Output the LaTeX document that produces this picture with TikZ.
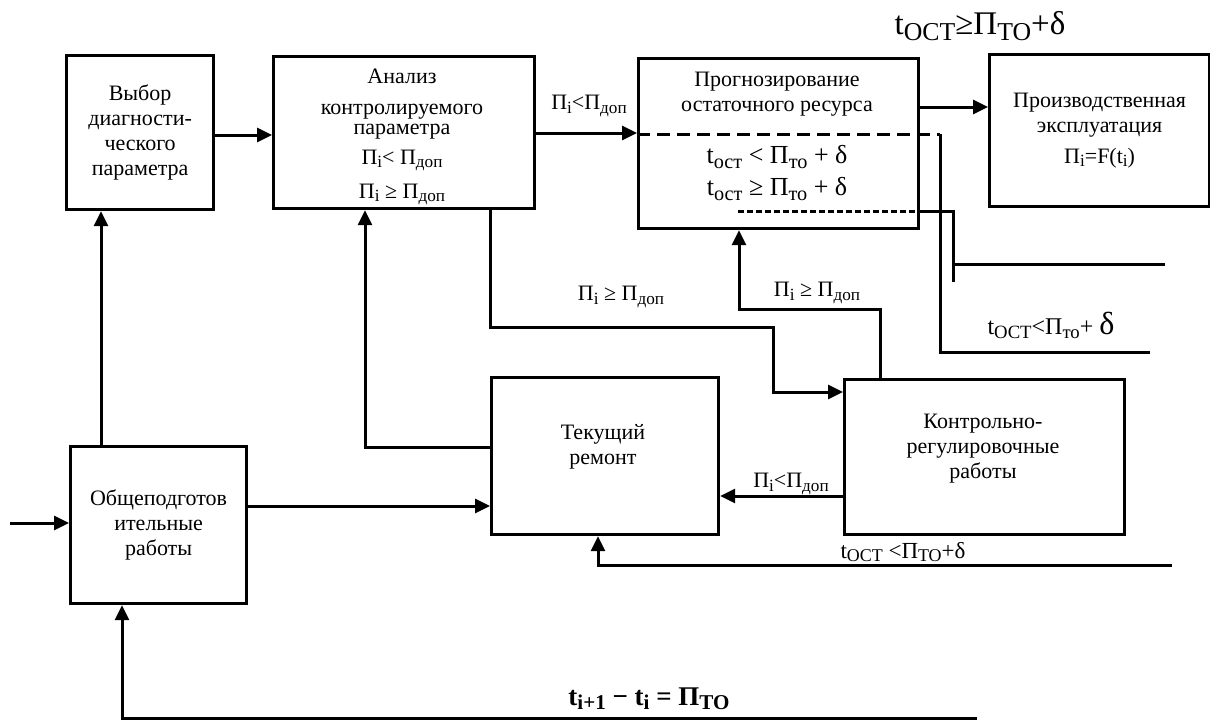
\documentclass[tikz,border=0pt]{standalone}
\usepackage{fontspec}
\setmainfont{Liberation Serif}
\usetikzlibrary{arrows.meta}
\newcommand{\sbs}[1]{\raisebox{-0.35ex}{\scalebox{0.78}{#1}}}
\newcommand{\bxfont}{\fontsize{22}{25}\selectfont}
\newcommand{\eqfont}{\fontsize{26}{30}\selectfont}
\newcommand{\bigfont}{\fontsize{33}{36}\selectfont}
\newcommand{\botfont}{\fontsize{27}{30}\selectfont\bfseries}
\begin{document}
\begin{tikzpicture}[x=1pt,y=-1pt,
  box/.style={draw, line width=3.2pt, anchor=north west, inner sep=0pt, align=center, font=\bxfont},
  ln/.style={line width=3pt},
  arr/.style={ln, -{Triangle[length=15pt,width=14pt]}},
  lbl/.style={inner sep=0pt, align=center, font=\bxfont}]
\useasboundingbox (0,0) rectangle (1210,720);

% boxes
\node[box, minimum width=147, minimum height=154] (b1) at (65,54) {Выбор\\диагности-\\ческого\\параметра};
\node[box, minimum width=261, minimum height=152] (b2) at (272,55) {};
\node[box, minimum width=280, minimum height=170] (b3) at (637,57) {};
\node[box, minimum width=220, minimum height=152] (b4) at (988,53) {Производственная\\эксплуатация\\[6pt]Π\sbs{i}=F(t\sbs{i})};
\node[box, minimum width=176, minimum height=157] (b5) at (69,445) {Общеподготов\\ительные\\работы};
\node[box, minimum width=227, minimum height=157] (b6) at (490,376) {};
\node[box, minimum width=280, minimum height=155] (b7) at (843,378) {};

% texts inside boxes
\node[lbl] (b2t) at (402,137) {Анализ\\[6pt]контролируемого\\[-5pt]параметра\\[5pt]Π\sbs{i}< Π\sbs{доп}\\[9pt]Π\sbs{i} ≥ Π\sbs{доп}};
\node[lbl] (b3t) at (777,94) {Прогнозирование\\остаточного ресурса};
\node[lbl, font=\eqfont] (b3a) at (777,157) {t\sbs{ост} < Π\sbs{то} + δ};
\node[lbl, font=\eqfont] (b3b) at (777,189) {t\sbs{ост} ≥ Π\sbs{то} + δ};
\node[lbl] (b6t) at (603,447) {Текущий\\ремонт};
\node[lbl] (b7t) at (983,449) {Контрольно-\\регулировочные\\работы};

% coordinates
\coordinate (in) at (10,523);
\coordinate (x101) at (101,0);
\coordinate (y135) at (0,135);
\coordinate (y133) at (0,133);
\coordinate (y107) at (0,107);
\coordinate (p6a) at (365,447);
\coordinate (y506) at (0,506);
\coordinate (q1) at (490,327);
\coordinate (q2) at (773,392);
\coordinate (r1) at (880,309);
\coordinate (r2) at (739,309);
\coordinate (y496) at (0,496);
\coordinate (s1) at (1172,565);
\coordinate (s2) at (598,565);
\coordinate (u1) at (977,718);
\coordinate (u2) at (122,718);
\coordinate (d1) at (940,134);
\coordinate (d2) at (940,352);
\coordinate (d3) at (1150,352);
\coordinate (e0) at (738,211);
\coordinate (e1) at (953,211);
\coordinate (e2) at (953,282);
\coordinate (f1) at (953,264);
\coordinate (f2) at (1165,264);

% connectors
\draw[arr] (in) -- (in -| b5.west);
\draw[arr] (x101 |- b5.north) -- (x101 |- b1.south);
\draw[arr] (y135 -| b1.east) -- (y135 -| b2.west);
\draw[arr] (y133 -| b2.east) -- (y133 -| b3.west);
\draw[arr] (y107 -| b3.east) -- (y107 -| b4.west);
\draw[arr] (p6a -| b6.west) -- (p6a) -- (p6a |- b2.south);
\draw[arr] (y506 -| b5.east) -- (y506 -| b6.west);
\draw[arr] (q1 |- b2.south) -- (q1) -- (q1 -| q2) -- (q2) -- (q2 -| b7.west);
\draw[arr] (r1 |- b7.north) -- (r1) -- (r2) -- (r2 |- b3.south);
\draw[arr] (y496 -| b7.west) -- (y496 -| b6.east);
\draw[arr] (s1) -- (s2) -- (s2 |- b6.south);
\draw[arr] (u1) -- (u2) -- (u2 |- b5.south);
\draw[ln, dash pattern=on 13pt off 7pt] (d1 -| b3.west) -- (d1);
\draw[ln] (d1) -- (d2) -- (d3);
\draw[ln, dash pattern=on 6pt off 3pt] (e0) -- (e0 -| b3.east);
\draw[ln] (e0 -| b3.east) -- (e1) -- (e2);
\draw[ln] (f1) -- (f2);

% labels
\node[lbl] (l1) at (589,106) {Π\sbs{i}<Π\sbs{доп}};
\node[lbl, font=\bigfont] (l2) at (980,26) {t\sbs{OCT}≥Π\sbs{TO}+δ};
\node[lbl] (l3) at (621,297) {Π\sbs{i} ≥ Π\sbs{доп}};
\node[lbl] (l4) at (817,293) {Π\sbs{i} ≥ Π\sbs{доп}};
\node[lbl, font=\fontsize{24}{28}\selectfont] (l5) at (1051,325) {t\sbs{OCT}<Π\sbs{то}+ {\fontsize{32}{34}\selectfont δ}};
\node[lbl] (l6) at (791,484) {Π\sbs{i}<Π\sbs{доп}};
\node[lbl, font=\fontsize{23}{26}\selectfont] (l7) at (903,552) {t\sbs{OCT} <Π\sbs{TO}+δ};
\node[lbl, font=\botfont] (l8) at (649,699) {t\sbs{i+1} − t\sbs{i} = Π\sbs{TO}};
\end{tikzpicture}
\end{document}
